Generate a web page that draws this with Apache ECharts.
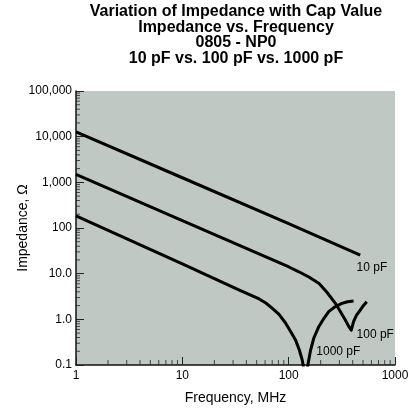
<!DOCTYPE html>
<html>
<head>
<meta charset="utf-8">
<script src="https://cdn.jsdelivr.net/npm/echarts@6/dist/echarts.min.js"></script>
<style>
html,body{margin:0;padding:0;background:#fff;}
#chart{width:409px;height:410px;}
</style>
</head>
<body>
<div id="chart"></div>
<script>
// ---- data ----
const seriesNames = ['10 pF', '100 pF', '1000 pF'];
const freq10  = [1, 10, 100, 471];
const imp10   = [12800, 1260, 124, 25.6];
const freq100 = [1, 10, 100.6, 124.8, 154.8, 192, 228, 275, 308, 341, 366, 388, 407.6, 434.8, 471, 505.5, 542.7];
const imp100  = [1500, 145, 14.0, 11.0, 8.45, 6.15, 3.97, 2.24, 1.45, 0.97, 0.71, 0.58, 0.89, 1.24, 1.60, 2.01, 2.43];
const freq1000 = [1, 10, 34.4, 52.8, 61, 70.3, 81.2, 93.7, 105, 116.3, 126.2, 134, 145, 151.5, 160.6, 172.4, 192, 213.8, 238, 270.8, 317, 358, 407.6];
const imp1000  = [185, 16.4, 4.37, 2.79, 2.28, 1.74, 1.28, 0.82, 0.53, 0.35, 0.21, 0.13, 0.047, 0.1, 0.21, 0.39, 0.69, 1.04, 1.47, 1.86, 2.24, 2.42, 2.52];
const xTickLabels = ['1', '10', '100', '1000'];
const yTickLabels = ['0.1', '1.0', '10.0', '100', '1,000', '10,000', '100,000'];
const xMinorTicks = [2,3,4,5,6,7,8,9,20,30,40,50,60,70,80,90,200,300,400,500,600,700,800,900];
const yMinorTicks = [0.2,0.3,0.4,0.5,0.6,0.7,0.8,0.9, 2,3,4,5,6,7,8,9, 20,30,40,50,60,70,80,90,
  200,300,400,500,600,700,800,900, 2000,3000,4000,5000,6000,7000,8000,9000,
  20000,30000,40000,50000,60000,70000,80000,90000];
const X_MIN = 1, X_MAX = 1000, Y_MIN = 0.1, Y_MAX = 100000;

function zip(a, b) { return a.map(function (v, i) { return [v, b[i]]; }); }

const chart = echarts.init(document.getElementById('chart'), null, { renderer: 'canvas' });
const FONT = 'Liberation Sans, Arial, Helvetica, sans-serif';

const lineStyle = { color: '#000', width: 3, join: 'round', cap: 'butt' };

function endText(txt) {
  return { show: true, position: 'inside', align: 'left', verticalAlign: 'middle', color: '#000', fontFamily: FONT, fontSize: 12, formatter: txt };
}

const option = {
  animation: false,
  backgroundColor: '#fff',
  title: {
    text: 'Variation of Impedance with Cap Value\nImpedance vs. Frequency\n0805 - NP0\n10 pF vs. 100 pF vs. 1000 pF',
    left: 236,
    top: 4,
    padding: 0,
    textAlign: 'center',
    textStyle: { fontFamily: FONT, fontWeight: 'bold', fontSize: 16, lineHeight: 15.5, color: '#000' }
  },
  grid: {
    left: 76, right: 14, top: 91, bottom: 45,
    outerBoundsMode: 'none', containLabel: false,
    show: true, backgroundColor: '#c0c8c4', borderWidth: 0
  },
  xAxis: {
    type: 'log', logBase: 10, min: X_MIN, max: X_MAX, position: 'bottom',
    axisLine: { show: true, onZero: false, lineStyle: { color: '#111', width: 1.5 } },
    axisTick: { show: true, inside: true, length: 8, lineStyle: { color: '#222', width: 1 } },
    axisLabel: {
      color: '#000', fontFamily: FONT, fontSize: 12, margin: 5,
      formatter: function (v) { return xTickLabels[Math.round(Math.log10(v))]; }
    },
    splitLine: { show: false },
    name: 'Frequency, MHz', nameLocation: 'middle', nameGap: 26, nameMoveOverlap: false,
    nameTextStyle: { color: '#000', fontFamily: FONT, fontSize: 14 }
  },
  yAxis: {
    type: 'log', logBase: 10, min: Y_MIN, max: Y_MAX, position: 'left',
    axisLine: { show: true, onZero: false, lineStyle: { color: '#111', width: 1.5 } },
    axisTick: { show: true, inside: true, length: 8, lineStyle: { color: '#222', width: 1 } },
    axisLabel: {
      color: '#000', fontFamily: FONT, fontSize: 12, margin: 4,
      formatter: function (v) { return yTickLabels[Math.round(Math.log10(v)) + 1]; }
    },
    splitLine: { show: false },
    name: 'Impedance, Ω', nameLocation: 'middle', nameGap: 46, nameMoveOverlap: false,
    nameTextStyle: { color: '#000', fontFamily: FONT, fontSize: 14 }
  },
  series: [{
    name: seriesNames[0], type: 'line', showSymbol: false, clip: true,
    lineStyle: lineStyle, data: zip(freq10, imp10),
    markPoint: { symbol: 'circle', symbolSize: 0, silent: true, label: endText(seriesNames[0]), data: [{ coord: [435, 13.3] }] }
  }, {
    name: seriesNames[1], type: 'line', showSymbol: false, clip: true,
    lineStyle: lineStyle, data: zip(freq100, imp100),
    markPoint: { symbol: 'circle', symbolSize: 0, silent: true, label: endText(seriesNames[1]), data: [{ coord: [435, 0.454] }] }
  }, {
    name: seriesNames[2], type: 'line', showSymbol: false, clip: true,
    lineStyle: lineStyle, data: zip(freq1000, imp1000),
    markPoint: { symbol: 'circle', symbolSize: 0, silent: true, label: endText(seriesNames[2]), data: [{ coord: [182, 0.193] }] }
  }, {
    // minor ticks along the x axis (log spaced)
    type: 'scatter', silent: true, clip: false, z: 1,
    symbol: 'rect', symbolSize: [1, 5], symbolOffset: [0, -2.5],
    itemStyle: { color: '#222' },
    data: xMinorTicks.map(function (v) { return [v, Y_MIN]; })
  }, {
    // minor ticks along the y axis (log spaced)
    type: 'scatter', silent: true, clip: false, z: 1,
    symbol: 'rect', symbolSize: [4, 1], symbolOffset: [2, 0],
    itemStyle: { color: '#222' },
    data: yMinorTicks.map(function (v) { return [X_MIN, v]; })
  }]
};
chart.setOption(option);
</script>
</body>
</html>
